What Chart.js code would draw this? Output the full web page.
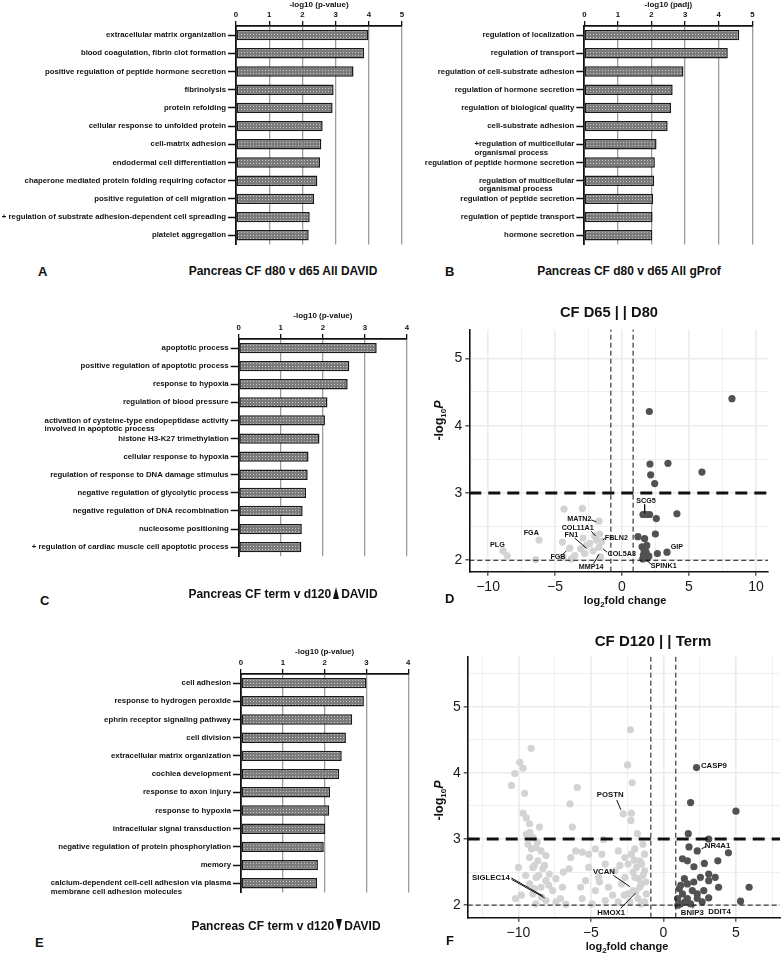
<!DOCTYPE html>
<html>
<head>
<meta charset="utf-8">
<script src="https://cdn.jsdelivr.net/npm/chart.js@4.4.0/dist/chart.umd.min.js"></script>
<style>
  body { margin: 0; width: 784px; height: 958px; position: relative; overflow: hidden; background: #fff;
         font-family: "Liberation Sans", Arial, sans-serif; color: #111; }
  canvas { position: absolute; }
  .txt { position: absolute; font-weight: bold; white-space: nowrap; line-height: 1; }
  .ttl { text-align: center; width: 400px; font-size: 12px; }
  .letter { font-size: 13px; }
  .xt { font-size: 11px; text-align: center; width: 200px; }
  .xt sub, .yt sub { font-size: 8px; vertical-align: -3px; }
  .yt { font-size: 12.5px; transform: rotate(-90deg); transform-origin: center; width: 80px; text-align: center; }
  .tri-up, .tri-down { display: inline-block; width: 0; height: 0; border-left: 3.5px solid transparent;
         border-right: 3.5px solid transparent; margin: 0 2px; vertical-align: -1px; }
  .tri-up { border-bottom: 12px solid #111; }
  .tri-down { border-top: 12px solid #111; }
</style>
</head>
<body>

<canvas id="goA" width="410" height="252" style="left:0;top:0"></canvas>
<canvas id="goB" width="384" height="252" style="left:400px;top:0"></canvas>
<canvas id="goC" width="415" height="255" style="left:0;top:305px"></canvas>
<canvas id="goE" width="415" height="260" style="left:0;top:640px"></canvas>
<canvas id="volD" width="364" height="282" style="left:420px;top:318px"></canvas>
<canvas id="volF" width="364" height="295" style="left:420px;top:645px"></canvas>

<div class="txt letter" style="left:38px;top:265px">A</div>
<div class="txt ttl" style="left:83px;top:265px">Pancreas CF d80 v d65 All DAVID</div>
<div class="txt letter" style="left:445px;top:265px">B</div>
<div class="txt ttl" style="left:429px;top:265px">Pancreas CF d80 v d65 All gProf</div>

<div class="txt letter" style="left:40px;top:594px">C</div>
<div class="txt ttl" style="left:83px;top:587px">Pancreas CF term v d120<span class="tri-up"></span>DAVID</div>
<div class="txt letter" style="left:35px;top:936px">E</div>
<div class="txt ttl" style="left:86px;top:919px">Pancreas CF term v d120<span class="tri-down"></span>DAVID</div>

<div class="txt" style="left:409px;top:305px;width:400px;text-align:center;font-size:14.7px">CF D65 | | D80</div>
<div class="txt letter" style="left:445px;top:592px">D</div>
<div class="txt xt" style="left:525px;top:595px">log<sub>2</sub>fold change</div>
<div class="txt yt" style="left:400px;top:413px">-log<sub>10</sub><i>P</i></div>

<div class="txt" style="left:453px;top:633px;width:400px;text-align:center;font-size:15px">CF D120 | | Term</div>
<div class="txt letter" style="left:446px;top:934px">F</div>
<div class="txt xt" style="left:527px;top:941px">log<sub>2</sub>fold change</div>
<div class="txt yt" style="left:400px;top:793px">-log<sub>10</sub><i>P</i></div>

<script>
// ---- GO enrichment bars ----
const termsA = [
  "extracellular matrix organization",
  "blood coagulation, fibrin clot formation",
  "positive regulation of peptide hormone secretion",
  "fibrinolysis",
  "protein refolding",
  "cellular response to unfolded protein",
  "cell-matrix adhesion",
  "endodermal cell differentiation",
  "chaperone mediated protein folding requiring cofactor",
  "positive regulation of cell migration",
  "+ regulation of substrate adhesion-dependent cell spreading",
  "platelet aggregation",
];
const valuesA = [3.99, 3.86, 3.54, 2.94, 2.91, 2.61, 2.57, 2.53, 2.45, 2.35, 2.22, 2.19];

const termsB = [
  "regulation of localization",
  "regulation of transport",
  "regulation of cell-substrate adhesion",
  "regulation of hormone secretion",
  "regulation of biological quality",
  "cell-substrate adhesion",
  "+regulation of multicellular\norganismal process",
  "regulation of peptide hormone secretion",
  "regulation of multicellular\norganismal process",
  "regulation of peptide secretion",
  "regulation of peptide transport",
  "hormone secretion",
];
const valuesB = [4.61, 4.27, 2.95, 2.63, 2.58, 2.48, 2.15, 2.10, 2.08, 2.05, 2.03, 2.02];

const termsC = [
  "apoptotic process",
  "positive regulation of apoptotic process",
  "response to hypoxia",
  "regulation of blood pressure",
  "activation of cysteine-type endopeptidase activity\ninvolved in apoptotic process",
  "histone H3-K27 trimethylation",
  "cellular response to hypoxia",
  "regulation of response to DNA damage stimulus",
  "negative regulation of glycolytic process",
  "negative regulation of DNA recombination",
  "nucleosome positioning",
  "+ regulation of cardiac muscle cell apoptotic process",
];
const valuesC = [3.28, 2.63, 2.59, 2.11, 2.05, 1.92, 1.66, 1.64, 1.60, 1.52, 1.50, 1.49];

const termsE = [
  "cell adhesion",
  "response to hydrogen peroxide",
  "ephrin receptor signaling pathway",
  "cell division",
  "extracellular matrix organization",
  "cochlea development",
  "response to axon injury",
  "response to hypoxia",
  "intracellular signal transduction",
  "negative regulation of protein phosphorylation",
  "memory",
  "calcium-dependent cell-cell adhesion via plasma\nmembrane cell adhesion molecules",
];
const valuesE = [3.00, 2.94, 2.66, 2.51, 2.41, 2.35, 2.13, 2.11, 2.01, 1.98, 1.84, 1.82];

const ticksAB = [0, 1, 2, 3, 4, 5];
const ticksCE = [0, 1, 2, 3, 4];

// ---- volcano plots: [log2FC, -log10 P] ----
const upD = [
  [8.21, 4.40], [2.04, 4.21], [2.09, 3.43], [3.43, 3.44], [2.14, 3.27], [2.44, 3.14], [5.97, 3.31],
  [1.57, 2.68], [1.80, 2.68], [2.06, 2.68], [2.56, 2.62], [4.10, 2.69],
  [1.19, 2.35], [1.69, 2.32], [2.49, 2.39],
  [1.50, 2.20], [1.65, 2.15], [1.80, 2.12], [1.60, 2.08], [1.75, 2.05], [1.90, 2.03], [1.55, 2.02],
  [1.70, 2.18], [1.85, 2.22], [2.00, 2.06], [2.64, 2.10], [3.36, 2.12],
];
const downD = [
  [-4.33, 2.76], [-2.96, 2.77], [-1.72, 2.58], [-6.19, 2.30], [-8.88, 2.14], [-8.58, 2.07], [-6.44, 2.01],
  [-4.45, 2.27], [-3.90, 2.18], [-3.53, 2.07], [-2.91, 2.33], [-2.66, 2.22], [-2.41, 2.25], [-2.04, 2.36],
  [-1.67, 2.39], [-2.16, 2.14], [-1.72, 2.19], [-1.52, 2.28], [-3.08, 2.17], [-4.40, 2.05], [-3.78, 2.02],
  [-1.60, 2.05], [-2.80, 2.10], [-1.90, 2.30],
];
const namesD = [
  ["SCG5", 1.79, 2.88], ["MATN2", -3.18, 2.62], ["COL11A1", -3.31, 2.48], ["FN1", -3.78, 2.38],
  ["FGA", -6.77, 2.41], ["PLG", -9.30, 2.22], ["FGB", -4.78, 2.05], ["MMP14", -2.31, 1.90],
  ["COL5A3", -0.02, 2.10], ["FBLN2", -0.42, 2.33], ["GIP", 4.10, 2.19], ["SPINK1", 3.11, 1.91],
];
const leadersD = [
  [[1.69, 2.83], [1.69, 2.70]], [[-2.29, 2.60], [-1.92, 2.57]], [[-2.29, 2.43], [-1.97, 2.36]],
  [[-3.53, 2.33], [-2.66, 2.18]], [[-4.40, 2.09], [-4.15, 2.14]], [[-2.11, 1.95], [-1.72, 2.09]],
  [[-1.42, 2.17], [-1.12, 2.12]], [[-1.42, 2.30], [-1.30, 2.33]], [[1.82, 2.00], [2.19, 1.94]],
];

const upF = [
  [2.29, 4.08], [1.88, 3.55], [5.01, 3.42], [1.72, 3.08], [3.13, 3.00], [1.77, 2.88], [2.34, 2.82],
  [4.49, 2.79], [1.32, 2.70], [1.66, 2.67], [2.83, 2.63], [3.76, 2.67], [2.11, 2.58], [2.56, 2.42],
  [3.13, 2.47], [3.58, 2.42], [3.13, 2.37], [3.81, 2.27], [5.92, 2.27], [5.33, 2.06], [1.20, 2.30],
  [1.66, 2.32], [2.00, 2.22], [2.34, 2.17], [1.32, 2.17], [0.98, 2.10], [1.66, 2.10], [2.34, 2.10],
  [3.13, 2.11], [1.20, 2.02], [1.88, 2.02], [2.68, 2.05], [2.79, 2.22], [1.45, 2.40], [1.10, 2.25],
  [1.50, 2.05], [2.10, 2.35], [1.00, 2.00],
];
const downF = [
  [-2.27, 4.65], [-9.12, 4.37], [-9.91, 4.16], [-9.68, 4.07], [-10.25, 3.99], [-2.47, 4.12], [-2.15, 3.85],
  [-10.48, 3.81], [-5.94, 3.78], [-9.57, 3.69], [-6.44, 3.53], [-6.28, 3.18], [-2.77, 3.38], [-2.20, 3.39],
  [-2.24, 3.28], [-1.79, 3.08], [-9.68, 3.39], [-9.46, 3.32], [-9.23, 3.23], [-8.55, 3.18], [-9.46, 3.07],
  [-9.00, 3.02], [-9.34, 2.92], [-8.78, 2.87], [-8.44, 2.82], [-9.23, 2.72], [-8.66, 2.67], [-8.10, 2.75],
  [-9.00, 2.57], [-10.00, 2.57], [-8.32, 2.55], [-7.87, 2.47], [-8.78, 2.42], [-8.10, 2.37], [-7.41, 2.40],
  [-9.23, 2.32], [-8.44, 2.27], [-7.64, 2.22], [-6.96, 2.27], [-9.80, 2.15], [-9.00, 2.17], [-8.10, 2.07],
  [-7.41, 2.05], [-6.73, 2.01], [-8.78, 2.02], [-4.13, 2.99], [-4.69, 2.85], [-5.60, 2.80], [-6.39, 2.72],
  [-6.05, 2.82], [-5.15, 2.77], [-4.24, 2.77], [-3.11, 2.82], [-2.65, 2.72], [-1.97, 2.85], [-1.41, 2.92],
  [-2.20, 2.77], [-1.63, 2.67], [-2.43, 2.62], [-1.86, 2.57], [-5.15, 2.57], [-4.01, 2.62], [-3.33, 2.52],
  [-4.47, 2.42], [-5.37, 2.37], [-5.71, 2.27], [-4.69, 2.22], [-3.79, 2.27], [-2.88, 2.32], [-1.97, 2.42],
  [-1.52, 2.32], [-2.43, 2.17], [-1.75, 2.10], [-1.18, 2.17], [-4.01, 2.07], [-4.92, 2.02], [-5.60, 2.10],
  [-3.11, 2.05], [-1.52, 2.02], [-1.29, 2.77], [-1.29, 2.52], [-2.09, 2.50], [-2.65, 2.42], [-2.09, 2.22],
  [-1.63, 2.27], [-9.10, 2.85], [-8.90, 2.60], [-8.60, 2.45], [-8.20, 2.60], [-8.90, 2.25], [-8.40, 2.12],
  [-9.50, 2.45], [-7.90, 2.30], [-8.70, 2.95], [-9.20, 3.10], [-1.40, 2.45], [-1.70, 2.40], [-1.30, 2.05],
  [-2.30, 2.05], [-1.90, 2.20], [-1.50, 2.62], [-2.00, 2.68], [-1.20, 2.35], [-3.50, 2.15], [-2.70, 2.15],
  [-4.40, 2.35], [-3.00, 2.60], [-6.50, 2.55], [-7.10, 2.10], [-10.20, 2.10], [-6.90, 2.50],
];
const namesF = [
  ["CASP9", 3.49, 4.11], ["NR4A1", 3.74, 2.89], ["POSTN", -3.67, 3.66], ["VCAN", -4.10, 2.50],
  ["SIGLEC14", -11.90, 2.41], ["HMOX1", -3.60, 1.88], ["BNIP3", 2.00, 1.88], ["DDIT4", 3.88, 1.90],
];
const leadersF = [
  [[2.63, 2.85], [2.97, 2.89]], [[-3.22, 3.59], [-2.93, 3.44]], [[-3.45, 2.45], [-2.31, 2.28]],
  [[-10.48, 2.41], [-8.32, 2.14]], [[-10.48, 2.39], [-8.19, 2.11]], [[-2.95, 1.95], [-1.93, 2.18]],
  [[2.00, 1.95], [2.22, 2.01]],
];

const xTicksD = [-10, -7.5, -5, -2.5, 0, 2.5, 5, 7.5, 10];
const yTicksD = [2, 2.5, 3, 3.5, 4, 4.5, 5];
const xTicksF = [-12.5, -10, -7.5, -5, -2.5, 0, 2.5, 5, 7.5];
const yTicksF = [2, 2.5, 3, 3.5, 4, 4.5, 5, 5.5];

const FONT = "'Liberation Sans', Arial, sans-serif";
Chart.defaults.font.family = FONT;

// dotted grey fill like the GraphPad bars
function stipple(ctx) {
  const tile = document.createElement("canvas");
  tile.width = 3;
  tile.height = 3;
  const g = tile.getContext("2d");
  g.fillStyle = "#7b7b7b";
  g.fillRect(0, 0, 3, 3);
  g.fillStyle = "#c6c6c6";
  g.fillRect(1, 1, 1, 1);
  return ctx.createPattern(tile, "repeat");
}

// term labels: first line sits on the tick, extra lines hang below, left aligned
function termLabels(terms) {
  return {
    id: "termLabels",
    afterDraw(chart) {
      const { ctx, chartArea } = chart;
      const y = chart.scales.y;
      ctx.save();
      ctx.font = "bold 7.8px " + FONT;
      ctx.fillStyle = "#111";
      ctx.textBaseline = "middle";
      ctx.textAlign = "left";
      terms.forEach((term, i) => {
        const lines = term.split("\n");
        const py = y.getPixelForValue(i);
        const x0 = chartArea.left - 10 - ctx.measureText(lines[0]).width;
        lines.forEach((line, j) => ctx.fillText(line, x0, py + j * 8.6));
      });
      ctx.restore();
    },
  };
}

function buildGoChart(id, terms, values, ticks, axisTitle, box) {
  const ctx = document.getElementById(id).getContext("2d");
  const boldFont = { size: 7.8, weight: "bold" };
  return new Chart(ctx, {
    type: "bar",
    data: {
      labels: terms,
      datasets: [
        {
          data: values,
          backgroundColor: stipple(ctx),
          borderColor: "#1a1a1a",
          borderWidth: 1.5,
          borderSkipped: false,
          barPercentage: 0.57,
          categoryPercentage: 1,
        },
      ],
    },
    options: {
      indexAxis: "y",
      responsive: false,
      animation: false,
      events: [],
      layout: { padding: { left: 0, top: 0, right: box.padRight, bottom: box.padBottom } },
      plugins: { legend: { display: false }, tooltip: { enabled: false } },
      scales: {
        x: {
          position: "top",
          min: ticks[0],
          max: ticks[ticks.length - 1],
          afterBuildTicks(scale) {
            scale.ticks = ticks.map((v) => ({ value: v }));
          },
          afterFit(scale) {
            scale.height = box.axisHeight;
          },
          ticks: { color: "#111", font: boldFont, padding: 1 },
          grid: {
            color: (c) => (c.tick && c.tick.value === 0 ? "rgba(0,0,0,0)" : "#9c9c9c"),
            lineWidth: 1.3,
            tickColor: "#111",
            tickLength: 5,
            tickWidth: 1.3,
          },
          border: { color: "#111", width: 1.8 },
          title: {
            display: true,
            text: axisTitle,
            color: "#111",
            font: { size: 8, weight: "bold" },
            padding: { top: box.titleTop, bottom: 0 },
          },
        },
        y: {
          afterFit(scale) {
            scale.width = box.axisWidth;
          },
          ticks: { display: false },
          grid: { offset: false, drawOnChartArea: false, tickLength: 8, tickColor: "#111", tickWidth: 1.5 },
          border: { color: "#111", width: 1.8 },
        },
      },
    },
    plugins: [termLabels(terms)],
  });
}

function isMajor(v, step) {
  return Math.abs(v / step - Math.round(v / step)) < 1e-6;
}

function signed(v) {
  return v < 0 ? "\u2212" + Math.abs(v) : String(v);
}

function toXY(pairs) {
  return pairs.map(([x, y]) => ({ x, y }));
}

function lineSet(points, width, dash) {
  return {
    data: toXY(points),
    showLine: true,
    borderColor: "#111",
    borderWidth: width,
    borderDash: dash,
    pointRadius: 0,
    order: 1,
  };
}

function geneNames(names, size) {
  return {
    id: "geneNames",
    afterDatasetsDraw(chart) {
      const { ctx } = chart;
      const { x, y } = chart.scales;
      ctx.save();
      ctx.font = "bold " + size + "px " + FONT;
      ctx.fillStyle = "#111";
      ctx.textAlign = "center";
      ctx.textBaseline = "middle";
      names.forEach(([name, vx, vy]) => ctx.fillText(name, x.getPixelForValue(vx), y.getPixelForValue(vy)));
      ctx.restore();
    },
  };
}

function buildVolcano(id, down, up, names, leaders, xTicks, yTicks, lim, box) {
  const ctx = document.getElementById(id).getContext("2d");
  const fc = lim.fc;
  const datasets = [
    { data: toXY(down), backgroundColor: "#d3d3d3", pointRadius: 3.6, borderWidth: 0, order: 3 },
    { data: toXY(up), backgroundColor: "#525252", pointRadius: 3.6, borderWidth: 0, order: 3 },
    lineSet([[-fc, lim.yMin], [-fc, lim.yMax]], 1, [5, 3]),
    lineSet([[fc, lim.yMin], [fc, lim.yMax]], 1, [5, 3]),
    lineSet([[lim.xMin, 2], [lim.xMax, 2]], 1, [5, 3]),
    lineSet([[lim.xMin, 3], [lim.xMax, 3]], 3, [12, 7]),
  ];
  leaders.forEach((seg) => datasets.push(lineSet(seg, 1, [])));

  const axis = (min, max, ticks, step, fit) => ({
    type: "linear",
    min,
    max,
    afterBuildTicks(scale) {
      scale.ticks = ticks.map((v) => ({ value: v }));
    },
    afterFit: fit,
    ticks: {
      autoSkip: false,
      maxRotation: 0,
      padding: 3,
      color: "#1a1a1a",
      font: { size: 14 },
      callback: (v) => (isMajor(v, step) ? signed(v) : ""),
    },
    grid: {
      color: "#ebebeb",
      lineWidth: (c) => (c.tick && isMajor(c.tick.value, step) ? 1.6 : 0.8),
      tickColor: (c) => (c.tick && isMajor(c.tick.value, step) ? "#333" : "rgba(0,0,0,0)"),
      tickLength: 4,
      tickWidth: 1.2,
    },
    border: { color: "#111", width: 1.6 },
  });

  return new Chart(ctx, {
    type: "scatter",
    data: { datasets },
    options: {
      responsive: false,
      animation: false,
      events: [],
      layout: { padding: { left: 0, top: box.padTop, right: box.padRight, bottom: 0 } },
      plugins: { legend: { display: false }, tooltip: { enabled: false } },
      scales: {
        x: axis(lim.xMin, lim.xMax, xTicks, 5, (s) => { s.height = box.axisHeight; }),
        y: axis(lim.yMin, lim.yMax, yTicks, 1, (s) => { s.width = box.axisWidth; }),
      },
    },
    plugins: [geneNames(names, box.labelSize)],
  });
}

buildGoChart("goA", termsA, valuesA, ticksAB, "-log10 (p-value)",
  { axisWidth: 236, axisHeight: 26, padRight: 8, padBottom: 7.6, titleTop: 0 });
buildGoChart("goB", termsB, valuesB, ticksAB, "-log10 (padj)",
  { axisWidth: 184.3, axisHeight: 26, padRight: 31.7, padBottom: 7.6, titleTop: 0 });
buildGoChart("goC", termsC, valuesC, ticksCE, "-log10 (p-value)",
  { axisWidth: 238.7, axisHeight: 34, padRight: 8, padBottom: 3.8, titleTop: 6.2 });
buildGoChart("goE", termsE, valuesE, ticksCE, "-log10 (p-value)",
  { axisWidth: 241, axisHeight: 34, padRight: 6.8, padBottom: 7.6, titleTop: 7.2 });

buildVolcano("volD", downD, upD, namesD, leadersD, xTicksD, yTicksD,
  { xMin: -11.4, xMax: 10.9, yMin: 1.83, yMax: 5.43, fc: 0.83 },
  { axisWidth: 49.3, axisHeight: 28.3, padTop: 5.3, padRight: 16, labelSize: 7.2 });
buildVolcano("volF", downF, upF, namesF, leadersF, xTicksF, yTicksF,
  { xMin: -13.5, xMax: 8.05, yMin: 1.81, yMax: 5.76, fc: 0.86 },
  { axisWidth: 47.7, axisHeight: 22.3, padTop: 8.3, padRight: 0, labelSize: 7.8 });
</script>
</body>
</html>
